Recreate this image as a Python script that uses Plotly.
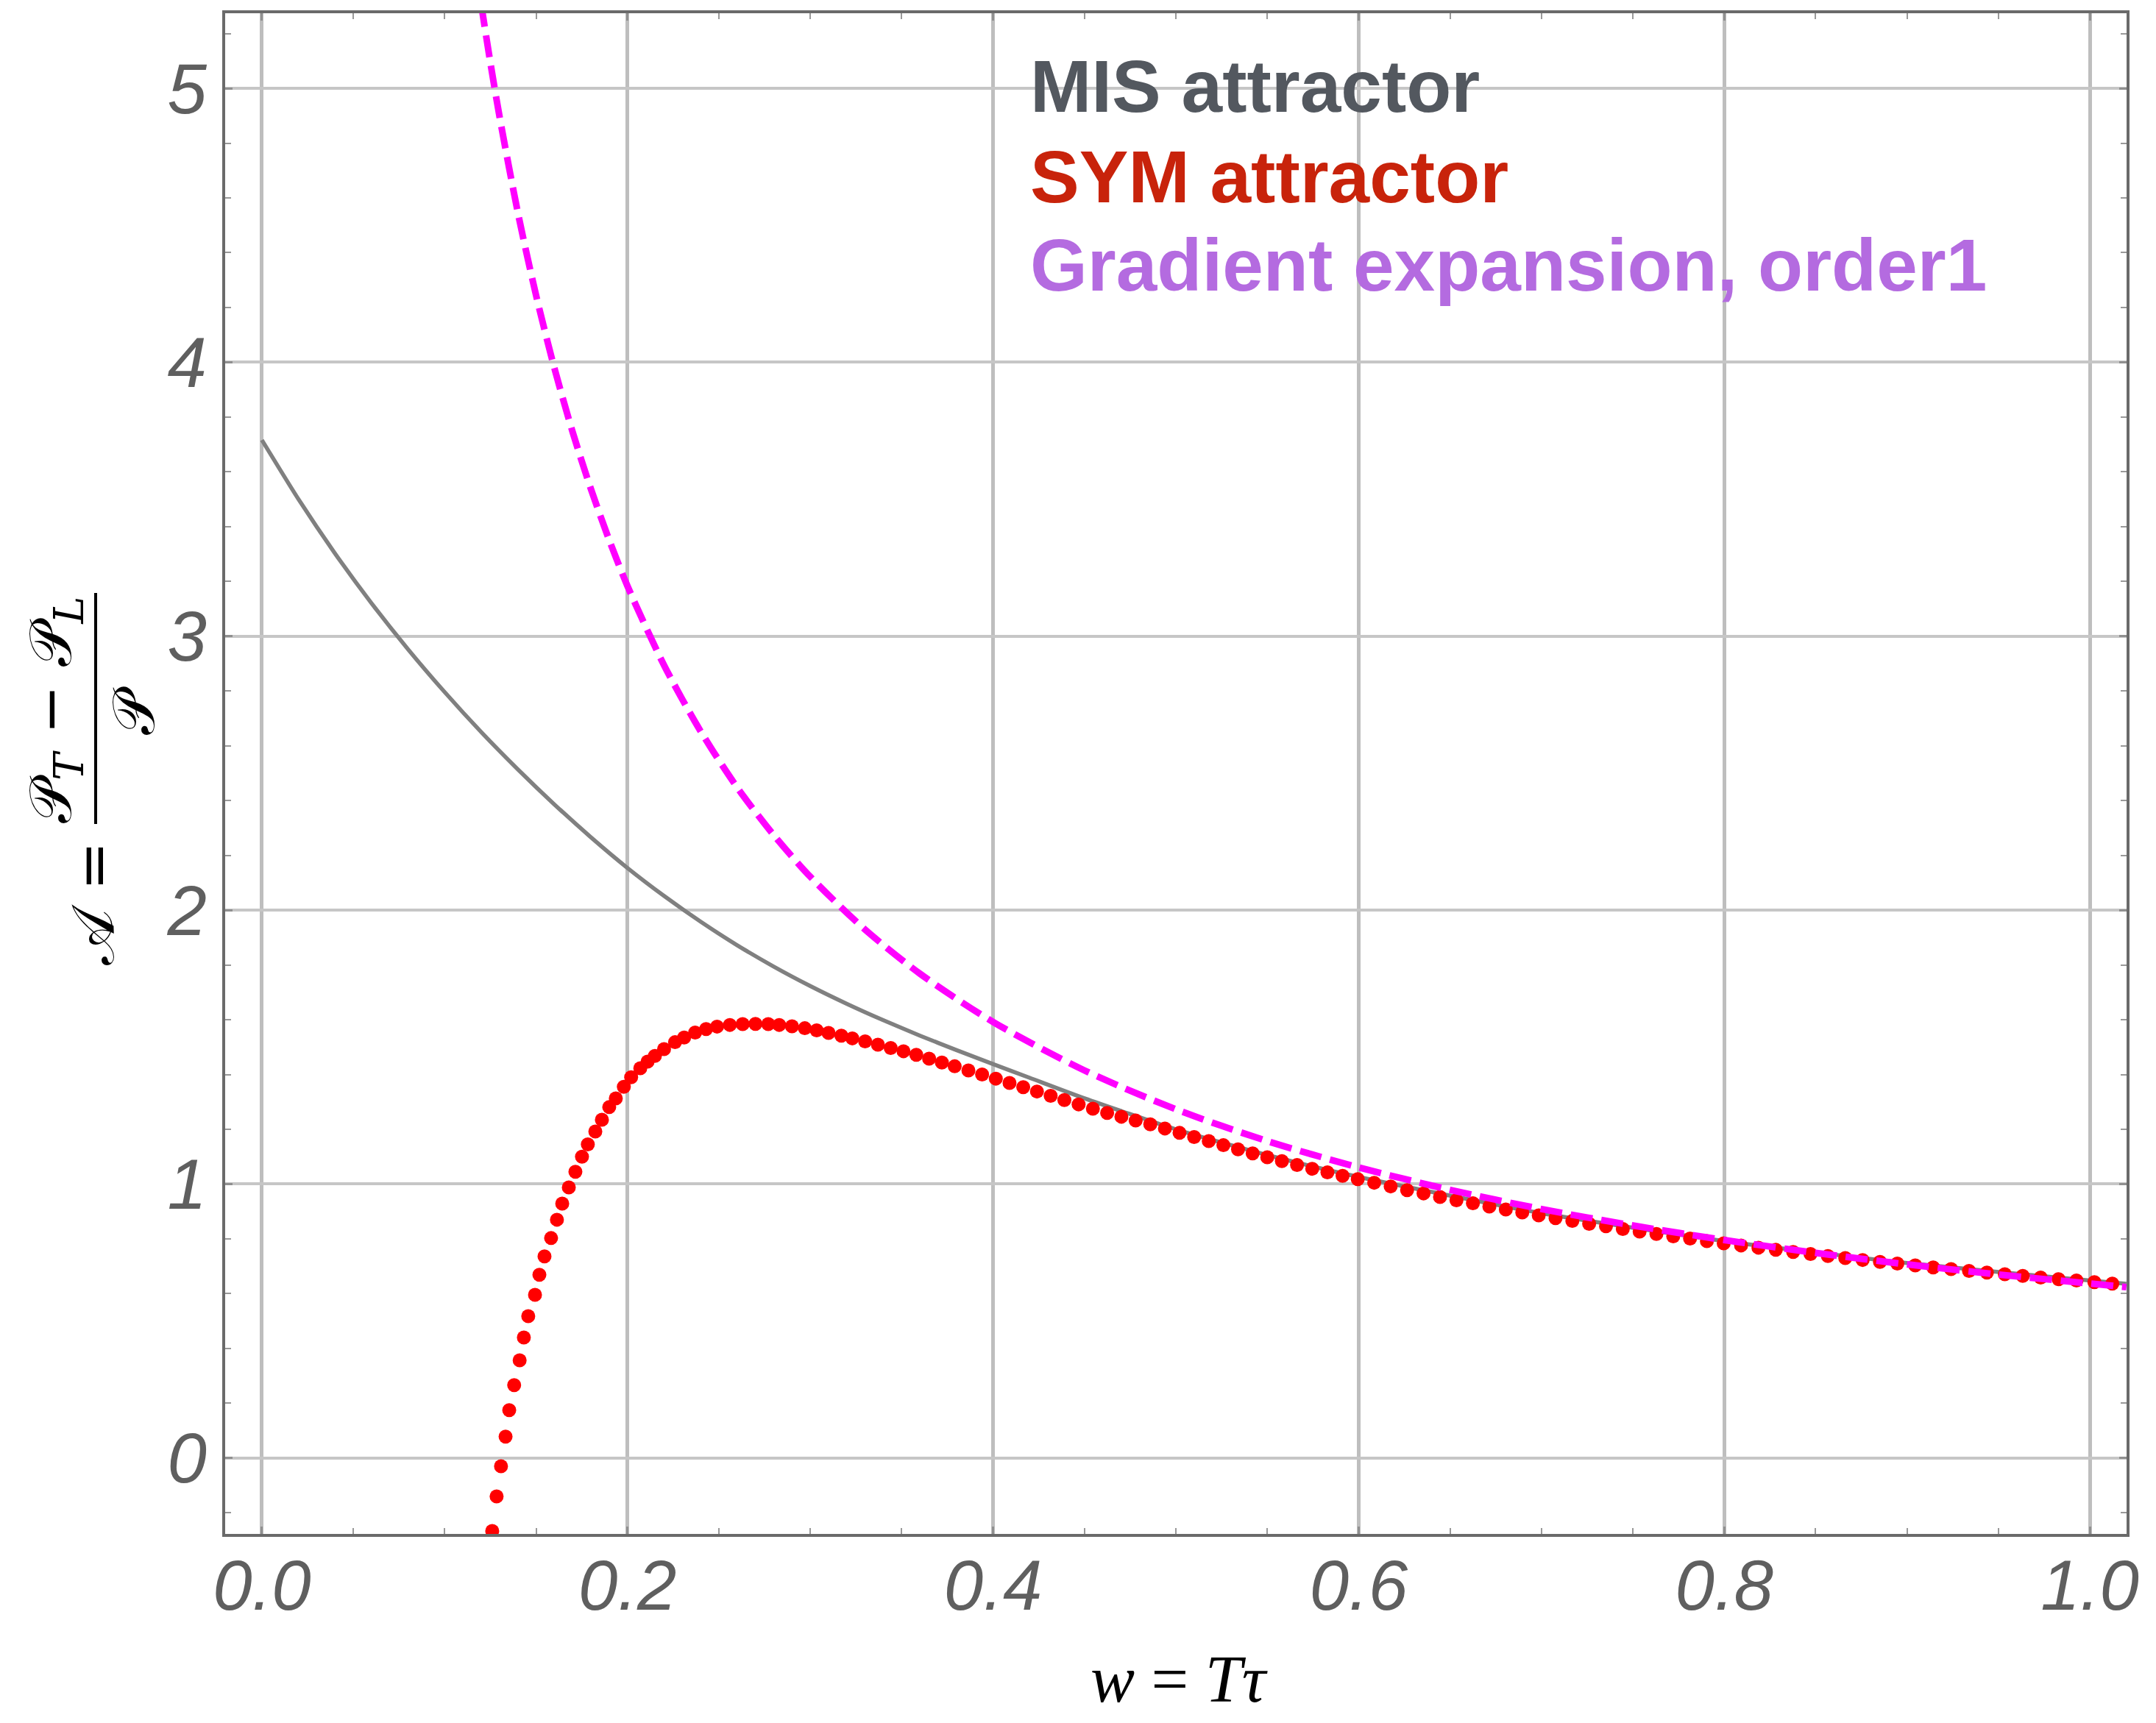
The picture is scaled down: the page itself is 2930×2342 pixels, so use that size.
import plotly.graph_objects as go

# ---------------- data ----------------
# MIS attractor (grey solid line)
mis_w = [0.0, 0.02, 0.04, 0.06, 0.08, 0.10, 0.12, 0.14, 0.16, 0.18,
         0.20, 0.22, 0.24, 0.26, 0.28, 0.30, 0.32, 0.34, 0.36, 0.38,
         0.40, 0.42, 0.45, 0.50, 0.55, 0.60, 0.70, 0.80, 0.90, 1.00, 1.02]
mis_a = [3.716, 3.500, 3.302, 3.120, 2.952, 2.796, 2.650, 2.514, 2.386, 2.266,
         2.154, 2.052, 1.958, 1.872, 1.794, 1.723, 1.658, 1.598, 1.542, 1.489,
         1.438, 1.388, 1.313, 1.200, 1.106, 1.026, 0.894, 0.792, 0.712, 0.648, 0.636]

# Gradient expansion, order 1 (magenta dashed)
grad_w = [0.12, 0.125, 0.13, 0.14, 0.15, 0.16, 0.17, 0.18, 0.19, 0.20, 0.22, 0.24,
          0.26, 0.28, 0.30, 0.33, 0.36, 0.40, 0.45, 0.50, 0.55, 0.60, 0.65, 0.70,
          0.75, 0.80, 0.85, 0.90, 0.95, 1.00, 1.02]
grad_a = [5.305, 5.093, 4.897, 4.547, 4.244, 3.979, 3.745, 3.537, 3.351, 3.183, 2.894, 2.653,
          2.448, 2.274, 2.122, 1.929, 1.768, 1.592, 1.415, 1.273, 1.157, 1.061, 0.979, 0.909,
          0.849, 0.796, 0.749, 0.707, 0.670, 0.637, 0.624]

# SYM attractor (red dots)
sym_w = [0.126, 0.1284, 0.1308, 0.1333, 0.1353, 0.138, 0.141, 0.1433, 0.1457, 0.1494,
         0.1518, 0.1546, 0.1582, 0.1614, 0.1643, 0.1679, 0.1715, 0.1751, 0.1783, 0.1824,
         0.186, 0.19, 0.1936, 0.198, 0.202, 0.207, 0.211, 0.215, 0.220, 0.226,
         0.231, 0.237, 0.243, 0.249, 0.256, 0.263, 0.270, 0.277, 0.283, 0.290,
         0.297, 0.3035, 0.310, 0.317, 0.323, 0.330, 0.337, 0.344, 0.351, 0.358,
         0.365, 0.372, 0.379, 0.3865, 0.394, 0.4015, 0.409, 0.4165, 0.424, 0.4315,
         0.439, 0.4468, 0.4546, 0.4624, 0.4702, 0.478, 0.486, 0.494, 0.502, 0.510,
         0.518, 0.526, 0.534, 0.542, 0.550, 0.558, 0.5663, 0.5746, 0.5829, 0.5912,
         0.5995, 0.6085, 0.6175, 0.6265, 0.6355, 0.6445, 0.6535, 0.6625, 0.6715, 0.6805,
         0.6895, 0.6985, 0.7077, 0.7169, 0.7261, 0.7353, 0.7445, 0.7537, 0.7629, 0.7721,
         0.7813, 0.7905, 0.7997, 0.8092, 0.8187, 0.8282, 0.8377, 0.8472, 0.8567, 0.8662,
         0.8757, 0.8852, 0.8947, 0.9045, 0.9143, 0.9241, 0.9339, 0.9437, 0.9535, 0.9633,
         0.9731, 0.9829, 0.9927, 1.0025, 1.0123]
sym_a = [-0.266, -0.140, -0.030, 0.078, 0.175, 0.266, 0.357, 0.440, 0.518, 0.596,
         0.669, 0.736, 0.803, 0.870, 0.929, 0.988, 1.045, 1.100, 1.145, 1.192,
         1.235, 1.281, 1.313, 1.355, 1.390, 1.423, 1.447, 1.468, 1.493, 1.518,
         1.535, 1.553, 1.566, 1.575, 1.581, 1.584, 1.585, 1.584, 1.581, 1.576,
         1.569, 1.561, 1.552, 1.542, 1.532, 1.521, 1.509, 1.497, 1.485, 1.472,
         1.458, 1.444, 1.430, 1.415, 1.400, 1.385, 1.369, 1.354, 1.338, 1.322,
         1.307, 1.291, 1.275, 1.260, 1.246, 1.232, 1.218, 1.203, 1.187, 1.172,
         1.157, 1.142, 1.127, 1.112, 1.098, 1.084, 1.070, 1.056, 1.043, 1.030,
         1.018, 1.005, 0.9915, 0.978, 0.966, 0.953, 0.941, 0.930, 0.918, 0.907,
         0.8965, 0.886, 0.8756, 0.8654, 0.855, 0.846, 0.836, 0.827, 0.818, 0.809,
         0.801, 0.792, 0.784, 0.776, 0.768, 0.760, 0.752, 0.745, 0.7375, 0.730,
         0.723, 0.716, 0.710, 0.703, 0.696, 0.690, 0.683, 0.677, 0.671, 0.665,
         0.659, 0.653, 0.648, 0.642, 0.637]

x_ticks = [0.0, 0.2, 0.4, 0.6, 0.8, 1.0]
x_tick_labels = ["0.0", "0.2", "0.4", "0.6", "0.8", "1.0"]
y_ticks = [0, 1, 2, 3, 4, 5]
y_tick_labels = ["0", "1", "2", "3", "4", "5"]

legend_labels = ["MIS attractor", "SYM attractor", "Gradient expansion, order1"]
legend_colors = ["#53585f", "#c8230b", "#b46be0"]

# ---------------- figure ----------------
fig = go.Figure()
fig.add_trace(go.Scatter(x=mis_w, y=mis_a, mode="lines",
                         line=dict(color="#808080", width=5.5, shape="spline", smoothing=0.6),
                         showlegend=False, hoverinfo="skip"))
fig.add_trace(go.Scatter(x=sym_w, y=sym_a, mode="markers",
                         marker=dict(color="#ff0000", size=19, line=dict(width=0)),
                         showlegend=False, hoverinfo="skip"))
fig.add_trace(go.Scatter(x=grad_w, y=grad_a, mode="lines",
                         line=dict(color="#ff00ff", width=9, dash="30px,12px",
                                   shape="spline", smoothing=0.8),
                         showlegend=False, hoverinfo="skip"))

tickfont = dict(family="Liberation Sans, Arial, sans-serif", size=96,
                color="#5f5f5f", style="italic")

fig.update_xaxes(range=[-0.0201, 1.0201], tickvals=x_ticks, ticktext=x_tick_labels,
                 showgrid=True, gridcolor="#bebebe", gridwidth=5, zeroline=False,
                 showline=True, linecolor="#6a6a6a", linewidth=4, mirror="ticks",
                 ticks="inside", ticklen=10, tickwidth=3, tickcolor="#909090",
                 minor=dict(ticks="inside", dtick=0.05, ticklen=8, tickwidth=2,
                            tickcolor="#999999", showgrid=False),
                 tickfont=tickfont, ticklabelstandoff=-16)
fig.update_yaxes(range=[-0.277, 5.274], tickvals=y_ticks, ticktext=y_tick_labels,
                 showgrid=True, gridcolor="#c6c6c6", gridwidth=4, zeroline=False,
                 showline=True, linecolor="#6a6a6a", linewidth=4, mirror="ticks",
                 ticks="inside", ticklen=10, tickwidth=3, tickcolor="#909090",
                 minor=dict(ticks="inside", dtick=0.2, ticklen=8, tickwidth=2,
                            tickcolor="#999999", showgrid=False),
                 tickfont=tickfont, ticklabelstandoff=2)

W, H = 2930, 2342
L, R, T, B = 306, 40, 18, 257
pw, ph = W - L - R, H - T - B


def px(xpix):
    return (xpix - L) / pw


def py(ypix):
    return (H - B - ypix) / ph


annotations = []
leg_y = [117, 240, 360]
for lab, col, yy in zip(legend_labels, legend_colors, leg_y):
    annotations.append(dict(xref="paper", yref="paper", x=px(1398), y=py(yy),
                            xanchor="left", yanchor="middle", showarrow=False,
                            text=lab,
                            font=dict(family="Liberation Sans, Arial, sans-serif",
                                      size=100, color=col, weight="bold")))

mathfont = dict(family="DejaVu Serif, Liberation Serif, serif", size=80, color="#000000")
# x-axis title
annotations.append(dict(xref="paper", yref="paper", x=px(1602), y=py(2282),
                        xanchor="center", yanchor="middle", showarrow=False,
                        text="<i>w</i> = <i>Tτ</i>",
                        font=dict(family="Liberation Serif, serif", size=90, color="#000000")))
# y-axis title, built as a rotated fraction
annotations.append(dict(xref="paper", yref="paper", x=px(74), y=py(965),
                        xanchor="center", yanchor="middle", showarrow=False, textangle=-90,
                        text="𝒫<sub><i>T</i></sub> − 𝒫<sub><i>L</i></sub>", font=mathfont))
annotations.append(dict(xref="paper", yref="paper", x=px(181), y=py(966),
                        xanchor="center", yanchor="middle", showarrow=False, textangle=-90,
                        text="𝒫", font=mathfont))
annotations.append(dict(xref="paper", yref="paper", x=px(126), y=py(1228),
                        xanchor="center", yanchor="middle", showarrow=False, textangle=-90,
                        text="𝒜 =", font=mathfont))

shapes = [dict(type="line", xref="paper", yref="paper",
               x0=px(130), x1=px(130), y0=py(1120), y1=py(806),
               line=dict(color="#000000", width=4))]

fig.update_layout(width=W, height=H, margin=dict(l=L, r=R, t=T, b=B),
                  paper_bgcolor="white", plot_bgcolor="white",
                  annotations=annotations, shapes=shapes, showlegend=False)

fig.write_html("out.html")
